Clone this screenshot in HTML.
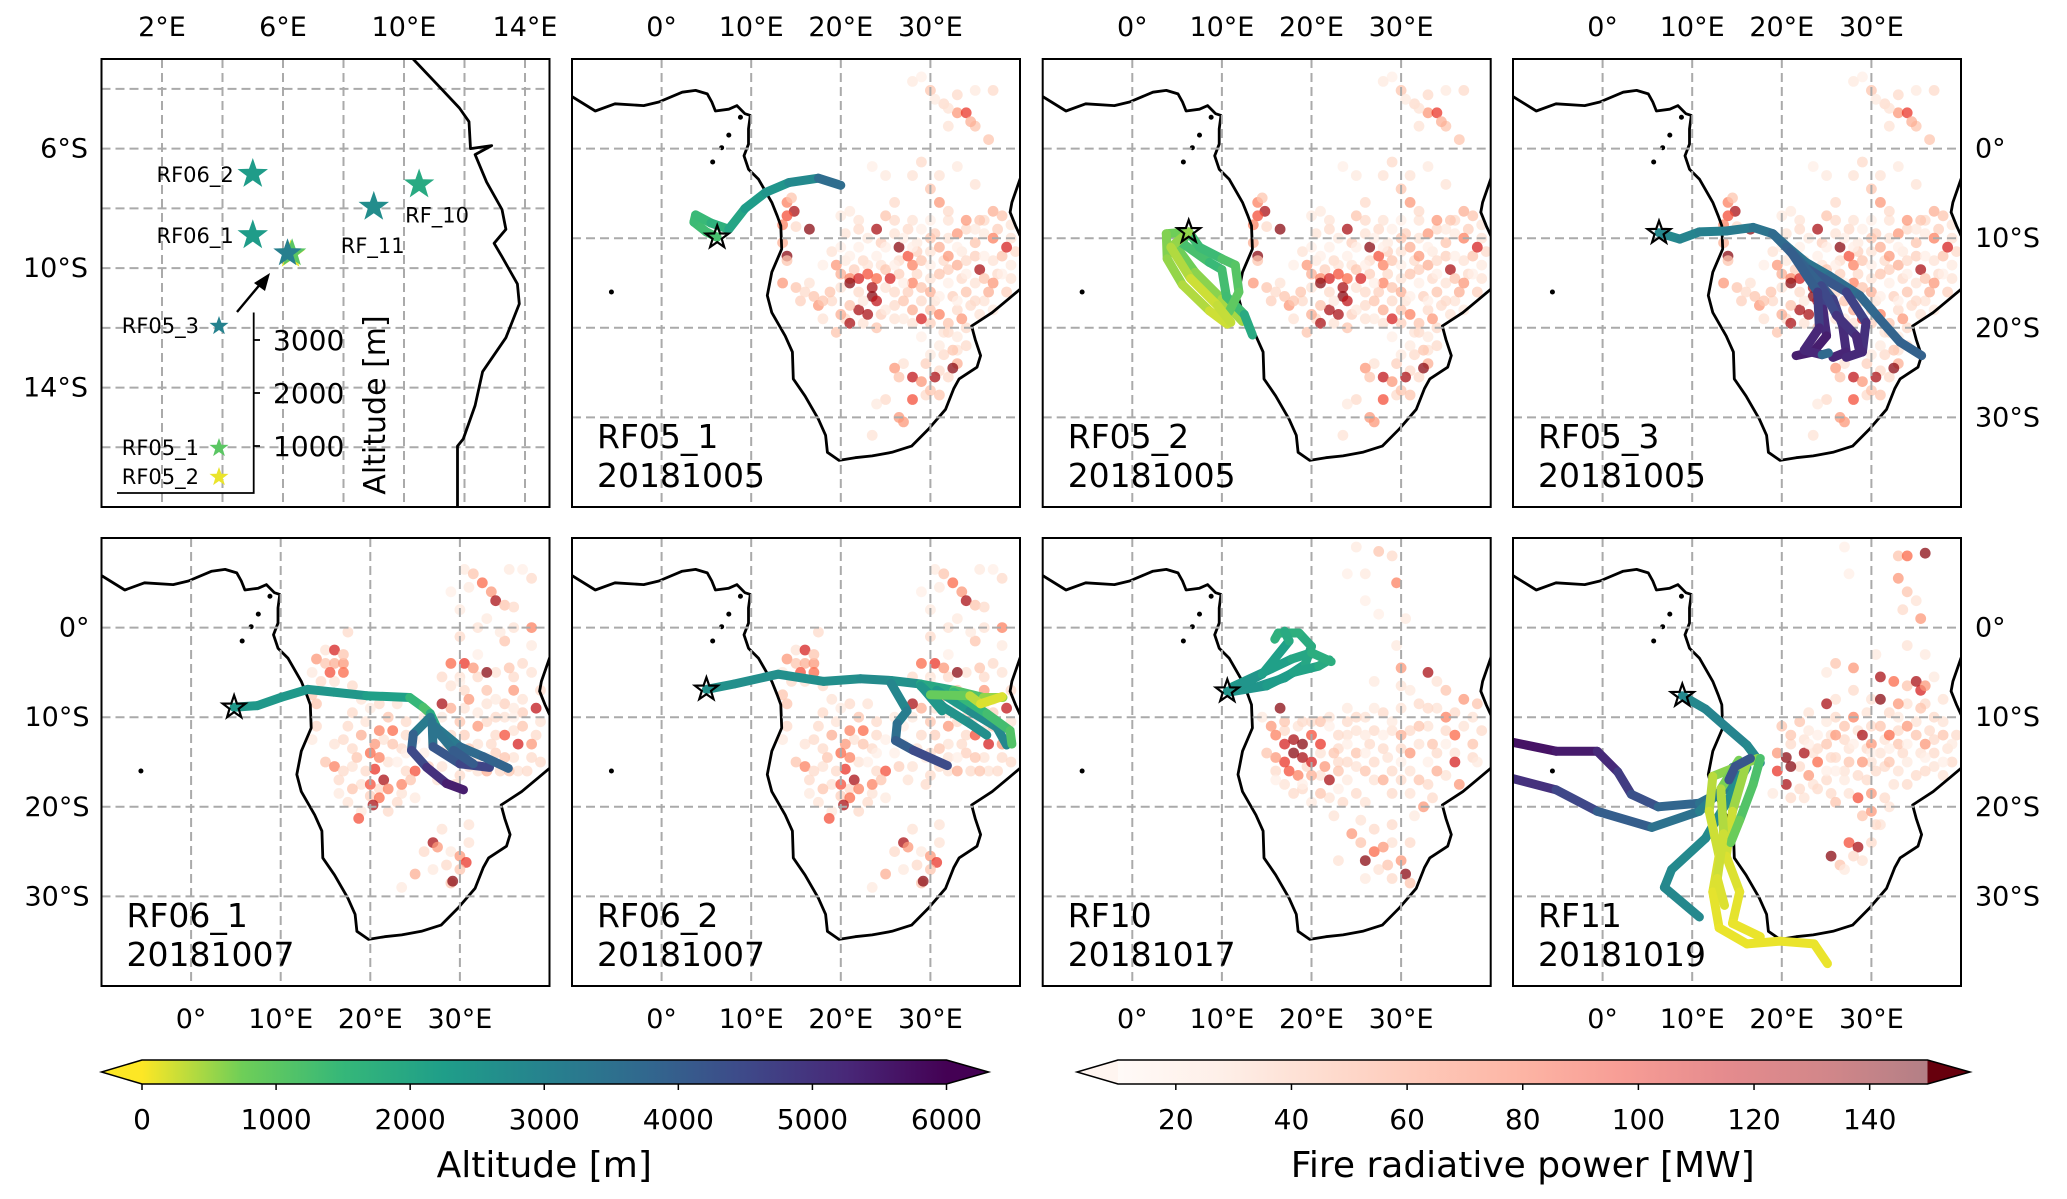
<!DOCTYPE html>
<html><head><meta charset="utf-8"><style>
html,body{margin:0;padding:0;background:#fff}
svg{display:block;font-family:"DejaVu Sans","Liberation Sans",sans-serif}
</style></head><body>
<svg id="fig" width="2067" height="1199" viewBox="0 0 2067 1199" xmlns="http://www.w3.org/2000/svg">
<defs>
<linearGradient id="gViridis" x1="0" x2="1" y1="0" y2="0">
<stop offset="0" stop-color="#fde725"/><stop offset="0.125" stop-color="#6ece58"/><stop offset="0.25" stop-color="#35b779"/><stop offset="0.375" stop-color="#1f9e89"/><stop offset="0.5" stop-color="#26828e"/><stop offset="0.625" stop-color="#31688e"/><stop offset="0.75" stop-color="#3e4989"/><stop offset="0.875" stop-color="#482878"/><stop offset="1" stop-color="#440154"/>
</linearGradient>
<linearGradient id="gReds" x1="0" x2="1" y1="0" y2="0">
<stop offset="0" stop-color="#fff5f0"/><stop offset="0.125" stop-color="#fee0d2"/><stop offset="0.25" stop-color="#fcbba1"/><stop offset="0.375" stop-color="#fc9272"/><stop offset="0.5" stop-color="#fb6a4a"/><stop offset="0.625" stop-color="#ef3b2c"/><stop offset="0.75" stop-color="#cb181d"/><stop offset="0.875" stop-color="#a50f15"/><stop offset="1" stop-color="#67000d"/>
</linearGradient>
</defs>
</svg>
<script>
// ---------- DATA ----------
const coastLon=[-12,-10,-7.4,-5.2,-2,-0.3,2.3,3.8,5.1,5.6,6,7.5,8.4,9.3,9.9,9.7,9.7,9.2,9.7,10.8,12.3,12.9,13.3,13.4,12.3,11.8,12.3,13.8,14.6,14.7,16,17.5,18.3,18.5,19.8,21.6,23.5,25.7,27.9,29.8,31.7,32.6,33.2,35.2,35.6,35,34.6,36.9,38.7,40,42];
const coastLat=[6.5,5.8,4.2,5.0,4.8,5.2,6.3,6.5,6.1,5.2,4.2,4.4,4.8,3.9,3.7,2.2,0.5,-0.8,-2.3,-3.4,-6,-7.5,-8.6,-11.2,-13.8,-16.4,-18.3,-20.9,-22.7,-25.7,-27.6,-30.2,-32,-33.9,-34.8,-34.5,-34.3,-33.9,-33.2,-31.3,-29.1,-26.8,-25.7,-24.4,-23.1,-21.3,-19.8,-18.3,-16.8,-15.7,-15];
const eastLon=[41,40,39.1,38.9,39.5,40,41];
const eastLat=[-1,-3.4,-6,-7.1,-8.6,-9.7,-11];
const islandLon=[8.8,7.5,6.7,5.7,-5.6];
const islandLat=[3.5,1.5,0.1,-1.5,-16];

const insetCoastLon=[10.3,11.2,11.83,12.15,12.2,12.9,12.35,12.73,13.24,13.37,12.98,13.24,13.75,13.81,13.37,12.6,12.35,11.96,11.77,11.77];
const insetCoastLat=[-3.0,-3.96,-4.64,-5.1,-6.0,-5.9,-6.2,-7.12,-8.04,-8.7,-9.17,-9.62,-10.53,-11.2,-12.33,-13.47,-14.6,-15.72,-15.96,-18.1];
const startNames=['RF06_2','RF_10','RF_11','RF06_1','RF05_1','RF05_2','RF05_3'];
const startLon=[5.0,10.5,9.0,5.0,6.3,6.25,6.15];
const startLat=[-6.85,-7.2,-7.95,-8.9,-9.5,-9.55,-9.5];
const startAlt=[2300,1900,2700,2300,1000,100,3100];
const legendNames=['RF05_3','RF05_1','RF05_2'];
const legendAlt=[3000,1000,100];
const insetAltTicks=[1000,2000,3000];

const fires1005=[[28,7.5,20],[30,6.5,40],[31.5,5,30],[33,4,60],[34,4,100],[35,2.5,40],[36.5,1,40],[32,4.5,25],[30.5,5.5,20],[34.5,3,50],[35,6.5,20],[37,6.5,30],[29,8,15],
[29,-1.5,30],[28,-3,25],[30,-4.5,40],[31,-6,60],[32,-7,30],[34,-8,60],[35.5,-8,40],[37,-7,50],[38,-7.5,40],[25,-3,20],[23.5,-2,15],
[14,-6,70],[14.8,-7,130],[14,-7.5,90],[13.5,-8.5,70],[15,-8.7,30],[14.5,-5.5,40],
[16.5,-9,140],[24,-9,130],[20,-7.5,20],[21,-7,20],[25,-7.5,40],[26,-6,30],[28,-8,25],
[13.5,-10.5,50],[14,-12,140],[14,-12.5,40],[13.5,-15,60],[15,-15.5,40],[16,-16,30],[17,-16.5,40],[17.5,-17.5,60],[18,-17,40],[18.8,-16,40],
[19.5,-13,60],[20,-14,50],[21,-14.5,70],[22,-14.5,110],[23,-14,90],[24,-14.5,80],[25,-13.5,40],[25.5,-14.5,110],
[21,-15,140],[23.5,-15.5,130],[23.5,-16.5,140],[24,-17,120],[22,-18,130],[23,-18.5,130],[21,-17.5,40],[22.5,-17,20],
[26.5,-11,140],[27.5,-12,90],[28,-13,70],[28,-15,70],[29,-15.5,40],[30,-16,50],[31,-14,40],[32,-12,60],[33,-13,50],[34,-12.5,30],[35.5,-13.5,130],[36,-14.5,40],[37,-15,60],[38,-12,40],[38.5,-11,110],[37,-10,70],[35,-10.5,40],[33,-9.5,60],[30,-10,40],[31,-11,50],[29,-12.5,40],[26,-16,30],[27,-17,40],[28,-18,50],[30,-18,40],[31,-18.5,70],[29,-19,110],[32,-19.5,40],[33.5,-19,60],[35,-17,30],[34,-16,40],[36.5,-16,50],[24,-20,40],[21,-19.5,130],[20,-18.5,50],[19.5,-20.5,40],
[32,-20.5,30],[33,-21,20],[32.5,-22.5,40],[34,-22,30],[33,-24,50],[32.5,-24.5,140],[31,-24.8,30],[26,-24.5,60],[26.5,-25.5,40],[28,-25.5,120],[29,-26,60],[30,-27,40],[31,-27.5,40],[30.5,-25.5,130],[28,-28,90],[25,-28,30],[26.5,-30,60],[27,-30.5,60],[24,-28.5,20],[23.5,-32,25],
[25,-11,15],[27,-10,15],[29,-9,15],[33,-11,15],[34,-14,15],[26,-13,15],[28,-11,15],[30,-13,15],[32,-15,15],[30,-8,15],[36,-12,15],[38,-14,15],[27,-15,15],[24,-12,15],[22,-11,15],[20,-11,15],[18,-13,15],[21,-12,15],[31,-16.5,15],[33,-17,15],[35,-9,20],[39,-13,20],[37,-18,20],[25,-18,20],[27,-19,20],[29,-21,15],[31,-22,20],[30,-23,20]];
const pale1005=[[20.5,-9.5,25],[22,-9,30],[23,-10,20],[24.5,-10.5,35],[26,-9.5,25],[27.5,-9,30],[28.5,-10.5,20],[30.5,-9.5,35],[32,-10,25],[34,-9,30],[36,-9.5,20],[37.5,-9,35],[39,-10,25],[39.5,-11.5,30],[37,-12.5,25],[35,-12,35],[33.5,-11.5,20],[31.5,-12.5,30],[30,-11.5,25],[28.5,-11.5,35],[26.5,-12.5,30],[24.5,-13,25],[22.5,-12.5,30],[20.5,-12.5,20],[19,-11.5,25],[21.5,-13.5,35],[23,-13,25],[26.5,-14,35],[28.5,-14,30],[30,-14.5,25],[32,-13.5,35],[33.5,-14.5,30],[35,-15,25],[37.5,-14,30],[39,-14.5,25],[38.5,-16,35],[36,-17,25],[34.5,-17.5,30],[32.5,-16.5,35],[30.5,-17,25],[29,-17,30],[27.5,-16,35],[25,-15.5,25],[26,-17.5,30],[28,-19.5,25],[30,-19.5,35],[31.5,-20.5,25],[33,-18,30],[35.5,-18.5,25],[34,-20,30],[26,-19,25],[24.5,-18.5,35],[22,-16,30],[20,-15.5,25],[19,-17,30],[16.5,-15,25],[15.5,-17,35],[18,-19,25],[20.5,-19,30],[22.5,-19.5,25],[31.5,-23,30],[33,-22.5,25],[32,-25.5,30],[29.5,-24,35],[27,-24,25],[29.5,-27.5,30],[22,-8,25],[26,-8,30],[32,-8,25],[36,-8,30],[39,-8.5,25],[31,-3,25],[33,-2,20],[35,-4,25],[33,6,30],[32,2.5,25]];

const fires1007=[[30.5,6.5,20],[31.5,6,40],[32.5,5,80],[33.5,4,60],[34,3,130],[35,2.5,40],[36,2.3,30],[31,4.5,20],[35.5,6.5,20],[37,6.5,15],[29,4,15],[30,2,20],[38,5.5,30],
[38,0,70],[35,-1.5,40],[34.5,-0.5,20],[30,-1,30],[29,-4,80],[30.5,-4,100],[31.5,-4.5,60],[33,-5,140],[35.5,-4.5,40],[37,-4,30],[38,-2,20],[36,-7,60],[33,-7,40],[31,-8,60],[29,-9,50],[28,-8.5,130],[30,-10.5,40],[32,-11,60],[34,-10,30],[35,-12,90],[37,-11,40],[38.5,-9,120],[36.5,-13,110],[38,-13,60],[35,-14.5,40],[33.5,-13,30],[31,-13.5,40],[29,-12,30],[33,-16,50],[35.5,-16,40],[31,-15.5,30],[39,-15,30],[29.5,-14.5,20],[32,-9.5,20],[34,-8,20],[36,-9,20],[37.5,-16,30],
[14,-3.5,60],[15,-4,40],[16,-4,50],[17,-4,60],[15.5,-5,90],[17,-5,80],[13.5,-5,20],[16,-2.5,110],[17,-3,40],[17.5,-0.5,30],[13.5,-7.5,40],[14,-8.5,40],[14,-11,30],[13.5,-12.5,20],[18,-9.5,30],[20,-9,20],[22,-10,40],[22.5,-11.5,80],[21,-11.5,70],[19,-12,50],[17,-12.5,30],[20.5,-13,60],[22.5,-13,40],[24,-12,30],[20,-14,80],[21,-14.5,70],[18.5,-14.5,40],[15,-15,40],[16,-15.5,70],[17,-16,30],[19.5,-16,30],[20.5,-15.8,100],[21.5,-17,130],[20,-17.5,90],[22,-18,70],[23.5,-17.5,70],[25,-16,90],[24.5,-17,40],[21,-19,80],[20.3,-19.8,130],[18,-18,40],[16.5,-18.5,20],[23,-19.5,30],[25,-19,20],[19,-20.5,20],[18.7,-21.3,90],
[27,-24,130],[27.5,-24.5,60],[29,-25,20],[30,-25.5,60],[30.7,-26.2,100],[28.5,-26.5,30],[30,-27,40],[29,-28.5,40],[25,-27.5,50],[29.2,-28.3,140],[27,-27,20],[23.5,-29,20],
[26,-10,20],[27,-11,15],[28,-10,20],[25,-12.5,15],[26,-14,15],[27,-13,15],[24,-14,15],[23,-15,15],[30,-6,15],[32,-3,15],[36,-10,15],[33,-14.5,15]];
const pale1007=[[30,-5.5,25],[32,-5.5,30],[34,-5,25],[36,-5.5,30],[38,-5,25],[39,-7,30],[37,-8,25],[35,-8.5,35],[33,-8.5,25],[30.5,-7,30],[29,-6.5,25],[28,-5.5,30],[30.5,-9,25],[33,-10.5,30],[35,-10,25],[37,-9.5,35],[39,-10.5,25],[38.5,-12,30],[36,-11.5,25],[34,-12,30],[32,-13,25],[30.5,-12,35],[28.5,-13.5,25],[30,-14,30],[32,-14.5,25],[34,-14,35],[36,-14.5,25],[38,-14.5,30],[36.5,-16,25],[34.5,-16,30],[32,-16,25],[30,-16.5,30],[28,-15.5,25],[26.5,-15.5,35],[27.5,-17,25],[29.5,-17.5,30],[16,-6,25],[18,-6.5,30],[19,-8,25],[21,-8.5,30],[23,-8.5,25],[24,-10.5,30],[19.5,-10.5,25],[17.5,-11,30],[16,-13,25],[18,-13.5,30],[21.5,-12.5,25],[23.5,-13.5,30],[22,-15,25],[24,-16,30],[18,-15.5,25],[16.5,-17,30],[19,-17.5,25],[21,-18,30],[23.5,-18.5,25],[20,-18.8,35],[17.5,-19.5,25],[22,-20.5,30],[15,-2.5,25],[14.5,-6,30],[31,-22,25],[28,-22.5,25],[26,-25,30],[31,-24,25],[32,0,25],[36,0,25],[33,1,20]];

const fires1017=[[25,9,20],[27.5,8.5,40],[29,8,30],[24,6,15],[29.5,5,70],[26,3,15],[27.5,1.5,15],[30.5,1,20],
[29.5,-2,20],[30,-4.5,60],[33,-5,130],[35,-7,40],[37,-8,60],[38.5,-8.5,40],[35,-10,70],[32,-11,40],[30,-12,50],[28,-13.5,30],[31,-14,60],[33.5,-13,40],[36,-12,80],[38,-13,40],[36,-15,110],[34,-16,50],[32,-17,40],[30,-17,30],[36.5,-17.5,60],[38.5,-15,20],[27,-9,20],[25,-10,30],[24,-9,20],[29,-10.5,20],[26,-12,20],[33,-9,30],[31,-7,20],
[16,-12,70],[17,-13,110],[18,-12.5,130],[19,-13,140],[20,-12,90],[21,-13,100],[18,-14,140],[19,-14.5,130],[20,-15,110],[17,-15,100],[16,-14.5,60],[15,-14,40],[17.5,-16,90],[18.5,-16.5,70],[20,-16.5,50],[21.5,-15.5,60],[22.5,-14,40],[23,-16,40],[22,-17,130],[24,-15,30],[25,-14,40],[15.5,-11,60],[14.5,-10,20],[16.5,-9,140],[17,-10.5,40],[19,-10.5,30],[21,-10.5,40],[23,-12,30],[24,-17,20],[26,-16,40],[27,-15,30],[28,-17,50],[25,-18.5,30],[21,-18.5,40],[18,-18.5,30],[20,-19.5,20],
[24.5,-23,60],[25.5,-24,40],[27,-25,80],[28,-24.5,60],[26,-26,140],[28.5,-26.5,40],[30,-26,60],[30.5,-27.5,140],[31,-28.5,40],[26,-28,20],[29,-22,30],[31.5,-21,20],[32.5,-20,60],
[22,-11,15],[24,-13,15],[26,-14,15],[28,-12,15],[30,-15,15],[33,-15,15],[35,-13,15],[23,-18,15],[19,-17.5,15],[16,-17,15]];
const pale1017=[[17,-11.5,30],[18.5,-11,25],[20,-10.5,30],[22,-10,25],[24,-10.5,30],[26,-10,25],[28,-9.5,30],[30,-9,25],[32,-8.5,30],[34,-9,25],[36,-9.5,30],[38,-10,25],[39,-11.5,30],[37,-11,25],[35,-11.5,30],[33,-11,25],[31,-11.5,30],[29,-11.5,25],[27,-11.5,30],[25,-11.5,25],[23,-13.5,30],[21,-14,25],[19.5,-15.5,30],[21,-16.5,25],[23,-15,30],[25,-15.5,25],[26.5,-13,30],[28.5,-14.5,25],[30,-13.5,30],[32,-13,25],[34,-14,30],[36,-14,25],[38,-14.5,30],[35,-16.5,25],[33,-17.5,30],[31,-16,25],[29,-16,30],[27,-17,25],[29,-18.5,30],[31,-18.5,25],[33.5,-19,30],[26,-19.5,25],[23.5,-19.5,30],[22,-19,25],[24,-12,25],[16,-16,30],[17,-17.5,25],[19,-18,30],[22.5,-21,25],[25.5,-21.5,25],[27,-22.5,30],[29,-24,25],[31,-24,30],[27.5,-27,25],[29,-28,30],[23,-26,25],[34,-6,25],[30,-6.5,25],[27,-6,20],[26,6,20]];

const fires1019=[[27,9,15],[33,8,40],[34,8,80],[36,8.3,140],[33,5.5,60],[34,4,40],[33.5,2,30],[35.5,1,60],[27.5,6,15],
[25,-5,20],[26,-4,40],[28,-4.5,60],[30.5,-3,20],[31,-5.5,130],[32.5,-6,80],[34,-6.5,40],[35,-6,130],[35.5,-7,110],[36,-6.5,60],[37,-5.5,20],[31,-8,140],[33,-8.5,60],[35.5,-9,40],[25,-8.5,130],[22,-10.5,40],[20,-11,40],[23,-11.5,20],[21,-12,40],[19.5,-14,60],[20.5,-14.5,140],[21,-15.5,140],[19.5,-16,100],[22.5,-14,130],[24,-15,80],[23,-16.5,60],[25,-13,40],[26,-12,60],[27,-11,40],[28,-10,70],[29,-12,130],[30,-13,60],[31,-11,40],[32,-12,80],[33,-13,40],[34,-11,60],[35,-12,40],[36,-13,60],[37,-14,30],[38,-12,40],[39,-13,20],[26,-14.5,30],[27.5,-15,40],[29,-15,60],[30.5,-16,30],[32,-15,40],[34,-15,20],[36,-16,30],[24,-18,30],[26,-19.5,40],[28.5,-19,90],[30,-18.5,60],[31.5,-19,30],[20.5,-17.5,130],[22,-18,30],[19,-18.5,20],[27,-17,20],[25,-10.5,20],[33,-10,20],[37,-10,30],
[29,-21,40],[30,-20.5,60],[30.5,-22,30],[27.5,-24,90],[28.5,-24.5,130],[25.5,-25.5,140],[26.5,-26.5,40],[28,-25.5,30],[27,-27,20],
[24,-12,15],[26,-16,15],[28,-13,15],[30,-14,15],[32,-13.5,15],[34,-13,15],[36,-14.5,15],[38,-15,15],[23,-13,15],[25,-16,15]];
const pale1019=[[21,-13,30],[22.5,-12.5,25],[24,-13.5,30],[25.5,-12,25],[27,-12.5,30],[28.5,-11.5,25],[30,-11,30],[31.5,-12.5,25],[33,-11.5,30],[35,-10.5,25],[36.5,-11.5,30],[38,-10.5,25],[39.5,-12,30],[38.5,-13.5,25],[37,-12.5,30],[35.5,-14,25],[33.5,-14,30],[31,-14,25],[29.5,-13.5,30],[27.5,-13.5,25],[25.5,-14.5,30],[23.5,-14,25],[22,-15.5,30],[23.5,-17.5,25],[25,-17,30],[27,-16,25],[28.5,-16.5,30],[30,-15,25],[31.5,-15.5,30],[33,-16,25],[35,-16.5,30],[37,-15.5,25],[39,-15,30],[38,-16.5,25],[34,-17.5,30],[32.5,-17.5,25],[29.5,-17,30],[27.5,-18.5,25],[25.5,-18.5,30],[22.5,-19,25],[21,-19,30],[26,-8,25],[28,-7,30],[30,-8,25],[32,-9.5,30],[34,-8.5,25],[36,-8.5,30],[38,-8,25],[29.5,-9.5,25],[26,-10,30],[23,-9.5,25],[31,-22,25],[30,-24,30],[29,-26,25],[32,-20,25],[35,3,25],[34,-2,25],[36,-3,20]];

// trajectories: each is [[lon,lat,alt],...]
const trajRF05_1=[
 [[6.2,-9.9,1200],[5,-9.3,1300],[3.6,-8.2,1400],[3.8,-7.4,1400],[5.5,-8.3,1500],[7.5,-9,1900],[9.3,-6.7,2200],[11.6,-4.9,2400],[14.2,-3.8,2600],[17.5,-3.3,3000],[20,-4.1,4200]]
];
const trajRF05_2=[
 [[6.3,-9.3,800],[3.8,-9.5,700],[3.9,-12.3,600],[5.6,-15.2,500],[8.6,-18.1,300],[10.6,-19.6,200]],
 [[6.3,-9.3,900],[4.8,-10.8,800],[7,-13.8,700],[10,-16.8,500],[12.3,-19.3,400]],
 [[6.3,-9.3,1000],[5.5,-10.5,1000],[8.6,-12.7,1500],[10,-13.5,1400],[10.5,-16.5,1200],[12.5,-18.5,1500],[13.4,-20.8,2300]],
 [[6.3,-9.3,1100],[7.5,-11,1600],[10,-12.3,1200],[11.5,-13,1100],[11.9,-16,1000],[10.8,-18.2,900]],
 [[6.3,-9.3,600],[4.3,-11,500],[6.5,-14.5,300],[9.5,-17.5,200],[11,-19.4,400]]
];
const trajRF05_3=[
 [[6.3,-9.4,2800],[8.6,-10.1,2900],[10.8,-9.3,3000],[13.8,-9.2,3100],[16.8,-8.8,3300],[19,-9.5,3500],[20.9,-11.2,3500],[22.7,-12.7,3300],[25.3,-14.2,3500],[28.7,-16.4,3700],[30.9,-19,3800],[33.2,-21.6,3900],[35.6,-23.1,3900]],
 [[19,-9.5,3500],[21.5,-12,3800],[23.5,-14.6,4300],[24.6,-17.9,5000],[25,-20.9,5400],[23.5,-22.7,5500],[21.6,-23.1,5400]],
 [[19.5,-10,3500],[22.5,-13,3800],[25.7,-16.8,4400],[26.8,-19.8,5000],[27.2,-22.7,5300],[25.7,-23.3,5300]],
 [[20,-10.5,3500],[23,-13.5,3900],[27.2,-16,4400],[29.4,-19.4,4900],[29,-22.7,5200],[27.2,-23.3,5200]],
 [[20.5,-11,3600],[24.4,-15.3,4200],[26.1,-18.6,4800],[28.3,-20.9,5200],[28.7,-22.7,5200]],
 [[21,-11.5,3600],[24,-16,4400],[24.2,-20,5100],[22.5,-22.5,5400],[24.5,-23,5100],[25.2,-22.8,2300]]
];
const trajRF06_1=[
 [[4.8,-8.9,2400],[7.4,-8.7,2400],[10,-7.8,2400],[13,-6.9,2400],[15.9,-7.2,2600],[19.6,-7.6,2300],[24.4,-7.8,2100],[25.9,-8.9,900],[26.7,-9.6,1500],[27.4,-11.1,2300]],
 [[26.7,-10,2800],[24.8,-11.9,3600],[24.6,-13.7,4200],[26.3,-15.6,4800],[28.5,-17.4,5300],[30.4,-18.1,5600]],
 [[26.9,-10.5,3000],[27,-13.3,3800],[30,-15.2,4500],[33.3,-15.6,4700]],
 [[27.2,-11,3000],[30,-13.3,3500],[32.6,-14.4,3800],[35.4,-15.7,3900]],
 [[27,-11,3000],[29.3,-13.7,3800],[31.5,-15.2,4300]]
];
const trajRF06_2=[
 [[5,-6.9,2600],[8.1,-6.3,2600],[13,-5.2,2700],[18.1,-6,2600],[22.2,-5.7,2700],[25.6,-5.9,2800],[28.9,-6.3,2400],[32.6,-7,1500],[35.9,-7.8,800],[38.1,-7.8,300]],
 [[25.6,-6.2,2800],[27.4,-9.3,3000],[26.3,-10.7,3300],[26.1,-12.6,3800],[28.1,-13.7,4200],[31.9,-15.4,4700]],
 [[28.9,-6.5,2300],[31.5,-8.9,2500],[34.4,-10.7,2600],[36.3,-12,2700]],
 [[30.7,-7,2100],[34.4,-9.3,2600],[37.4,-11.1,2800],[38.5,-13.1,2900]],
 [[32.6,-7.2,1600],[36.3,-9.6,1400],[38.9,-11.5,1200],[39.1,-13,1000]],
 [[29.2,-6.8,2200],[31.3,-9.3,2700]],
 [[30,-7.5,1200],[34.4,-7.6,500],[35.6,-8.5,200],[38,-7.7,150]]
];
const trajRF10=[
 [[10.6,-7.1,2600],[14,-6.6,2500],[17,-5.6,2300],[19.3,-4.1,2100],[20,-2.1,1900],[18.6,-0.6,1800],[16.3,-0.6,1700],[15.9,-1.3,1700]],
 [[10.8,-7.2,2600],[15,-6.5,2400],[18,-5,2200],[20.8,-4.3,2000],[22,-3.6,1800]],
 [[11.2,-6.6,2500],[15.5,-4.6,2300],[17.8,-3.5,2100],[20,-2.8,1900],[22.2,-3.8,1700]],
 [[11,-7,2600],[14.5,-5.2,2400],[17.5,-1.5,2000],[17,-0.4,1800]]
];
const trajRF11=[
 [[8.9,-7.6,2800],[11.5,-9.1,2900],[13.8,-11.1,3000],[16.1,-13.1,2900],[17.6,-15.1,2800]],
 [[-11,-12.6,5700],[-5.2,-13.8,5600],[-0.6,-13.8,5400],[1.7,-16.1,5000],[3.2,-18.6,4600],[6.2,-20,4000],[10.8,-19.6,3600],[13.8,-18,3300],[14.5,-15.6,3000]],
 [[-11,-16.6,5300],[-5.2,-18.1,4800],[-0.6,-20.5,4300],[5.5,-22.3,3700],[10.8,-20.5,3200],[13.8,-17.6,2900],[15.3,-15.6,2800]],
 [[16.1,-15.6,2600],[13.8,-19.6,2700],[11.5,-23.5,2800],[7.7,-27,2800],[6.9,-29,2800],[10.8,-32.3,2900]],
 [[17.3,-14.6,800],[12.3,-16.6,400],[11.9,-20.5,300],[13,-25.5,200],[12.3,-29.5,150],[13,-33.5,100],[16.1,-35.3,100],[19.8,-35,100],[23.6,-35.3,100],[25.1,-37.5,100]],
 [[16.1,-15,700],[14.5,-20.5,300],[13.8,-25.5,200],[15.3,-29.5,150],[14.5,-33,100],[17.6,-34.5,100]],
 [[17.6,-14.6,1200],[16.8,-17.5,1200],[15.3,-21.5,1000],[14.3,-24,600]],
 [[15.2,-14.8,900],[13.2,-18,500],[13.5,-23,300],[12.8,-28,200],[13.6,-31,150]],
 [[16.5,-14.6,3300],[14.8,-15.5,5000],[14.1,-17,3500]]
];

// ---------- helpers ----------
const svg=document.getElementById('fig');
const NS='http://www.w3.org/2000/svg';
function el(tag,attrs,parent){const e=document.createElementNS(NS,tag);for(const k in attrs)e.setAttribute(k,attrs[k]);(parent||svg).appendChild(e);return e;}
function lerpHex(a,b,t){const pa=[1,3,5].map(i=>parseInt(a.substr(i,2),16)),pb=[1,3,5].map(i=>parseInt(b.substr(i,2),16));return 'rgb('+pa.map((v,i)=>Math.round(v+(pb[i]-v)*t)).join(',')+')';}
function cmap(stops,t){t=Math.max(0,Math.min(1,t));const n=stops.length-1;const i=Math.min(n-1,Math.floor(t*n));return lerpHex(stops[i],stops[i+1],t*n-i);}
const viridisR=['#fde725','#6ece58','#35b779','#1f9e89','#26828e','#31688e','#3e4989','#482878','#440154'];
const reds=['#fff5f0','#fee0d2','#fcbba1','#fc9272','#fb6a4a','#ef3b2c','#cb181d','#a50f15','#67000d'];
function altColor(a){return cmap(viridisR,a/6000);}
function frpColor(v){return v>150?'#67000d':cmap(reds,(v-10)/140);}
function starPts(cx,cy,R){const r=R*0.4;let p=[];for(let i=0;i<10;i++){const ang=-Math.PI/2+i*Math.PI/5;const rr=i%2?r:R;p.push((cx+rr*Math.cos(ang)).toFixed(1)+','+(cy+rr*Math.sin(ang)).toFixed(1));}return p.join(' ');}
function txt(x,y,s,size,anchor,parent,name){const t=el('text',{x:x,y:y,'font-size':size,'text-anchor':anchor||'start',fill:'#000'},parent);t.textContent=s;return t;}

// ---------- big panels ----------
const colX=[101.5,572,1042.7,1513], rowY=[59,538], PW=448, PH=448;
const LON0=-10,LON1=40,LAT0=-40,LAT1=10;
const panelDefs=[
 {c:1,r:0,name:'RF05_1',date:'20181005',fires:fires1005,pale:pale1005,traj:trajRF05_1},
 {c:2,r:0,name:'RF05_2',date:'20181005',fires:fires1005,pale:pale1005,traj:trajRF05_2},
 {c:3,r:0,name:'RF05_3',date:'20181005',fires:fires1005,pale:pale1005,traj:trajRF05_3},
 {c:0,r:1,name:'RF06_1',date:'20181007',fires:fires1007,pale:pale1007,traj:trajRF06_1},
 {c:1,r:1,name:'RF06_2',date:'20181007',fires:fires1007,pale:pale1007,traj:trajRF06_2},
 {c:2,r:1,name:'RF10',date:'20181017',fires:fires1017,pale:pale1017,traj:trajRF10},
 {c:3,r:1,name:'RF11',date:'20181019',fires:fires1019,pale:pale1019,traj:trajRF11}
];
const lonTicks=[0,10,20,30], lonTickLabels=['0°','10°E','20°E','30°E'];
const latTicks=[0,-10,-20,-30], latTickLabels=['0°','10°S','20°S','30°S'];
const TICKFS=27;

panelDefs.forEach((p,idx)=>{
  const px=colX[p.c], py=rowY[p.r];
  const X=lon=>px+(lon-LON0)/(LON1-LON0)*PW;
  const Y=lat=>py+(LAT1-lat)/(LAT1-LAT0)*PH;
  const g=el('g',{});
  
  
  const cid='clip'+idx;
  const cp=el('clipPath',{id:cid},g); el('rect',{x:px,y:py,width:PW,height:PH},cp);
  const inner=el('g',{'clip-path':'url(#'+cid+')'},g);
  p.pale.concat(p.fires).forEach(f=>{const c=el('circle',{cx:X(f[0]).toFixed(1),cy:Y(f[1]).toFixed(1),r:5.4,fill:frpColor(f[2]),'fill-opacity':0.75},inner);
    
    });
  const coast=el('polyline',{points:coastLon.map((l,i)=>X(l).toFixed(1)+','+Y(coastLat[i]).toFixed(1)).join(' '),fill:'none',stroke:'#000','stroke-width':2.8,'stroke-linejoin':'round'},inner);
  
  
  const east=el('polyline',{points:eastLon.map((l,i)=>X(l).toFixed(1)+','+Y(eastLat[i]).toFixed(1)).join(' '),fill:'none',stroke:'#000','stroke-width':2.8},inner);
  
  
  islandLon.forEach((l,i)=>{const d=el('circle',{cx:X(l),cy:Y(islandLat[i]),r:2.5,fill:'#000'},inner);
    
    });
  lonTicks.forEach(l=>{const gl=el('line',{x1:X(l),x2:X(l),y1:py,y2:py+PH,stroke:'#aaa','stroke-width':2,'stroke-dasharray':'9,5'},inner);
    
    });
  latTicks.forEach(l=>{const gl=el('line',{x1:px,x2:px+PW,y1:Y(l),y2:Y(l),stroke:'#aaa','stroke-width':2,'stroke-dasharray':'9,5'},inner);
    
    });
  p.traj.forEach(tr=>{
    for(let i=0;i<tr.length-1;i++){
      const a=tr[i],b=tr[i+1];
      const s=el('line',{x1:X(a[0]).toFixed(1),y1:Y(a[1]).toFixed(1),x2:X(b[0]).toFixed(1),y2:Y(b[1]).toFixed(1),stroke:altColor((a[2]+b[2])/2),'stroke-width':9,'stroke-linecap':'round'},inner);
      
      
    }
  });
  const st=p.traj[0][0];
  const sm=el('polygon',{points:starPts(X(st[0]),Y(st[1]),12),fill:'none',stroke:'#000','stroke-width':2.2},inner);
  
  
  el('rect',{x:px,y:py,width:PW,height:PH,fill:'none',stroke:'#000','stroke-width':2},g);
  txt(px+25,py+389,p.name,33,'start',g,'panel-flight-label');
  txt(px+25,py+428,p.date,33,'start',g,'panel-date-label');
  if(p.r===0){lonTicks.forEach((l,i)=>txt(X(l),36,lonTickLabels[i],TICKFS,'middle',g,'lon-tick-label'));}
  else{lonTicks.forEach((l,i)=>txt(X(l),1028,lonTickLabels[i],TICKFS,'middle',g,'lon-tick-label'));}
  if(p.c===3){latTicks.forEach((l,i)=>txt(px+PW+14,Y(l)+9,latTickLabels[i],TICKFS,'start',g,'lat-tick-label'));}
  if(p.c===0){latTicks.forEach((l,i)=>txt(px-12,Y(l)+9,latTickLabels[i],TICKFS,'end',g,'lat-tick-label'));}
});

// ---------- inset panel 1 ----------
(function(){
  const px=101.5,py=59;
  const X=lon=>px+lon*30.25, Y=lat=>py+(-3-lat)*29.87;
  const g=el('g',{});
  
  
  const cp=el('clipPath',{id:'clipInset'},g); el('rect',{x:px,y:py,width:PW,height:PH},cp);
  const inner=el('g',{'clip-path':'url(#clipInset)'},g);
  for(let l=2;l<=14;l+=2){const gl=el('line',{x1:X(l),x2:X(l),y1:py,y2:py+PH,stroke:'#aaa','stroke-width':2,'stroke-dasharray':'9,5'},inner);
    
    }
  for(let l=-4;l>=-16;l-=2){const gl=el('line',{x1:px,x2:px+PW,y1:Y(l),y2:Y(l),stroke:'#aaa','stroke-width':2,'stroke-dasharray':'9,5'},inner);
    
    }
  const coast=el('polyline',{points:insetCoastLon.map((l,i)=>X(l).toFixed(1)+','+Y(insetCoastLat[i]).toFixed(1)).join(' '),fill:'none',stroke:'#000','stroke-width':2.8,'stroke-linejoin':'round'},inner);
  
  
  const order=[0,1,2,3,5,4,6];
  order.forEach(i=>{
    const R=i>=4?15:16;
    const s=el('polygon',{points:starPts(X(startLon[i]),Y(startLat[i]),R),fill:altColor(startAlt[i])},inner);
    
    
  });
  txt(X(startLon[0])-19,Y(startLat[0])+8,startNames[0],21,'end',inner,'start-label');
  txt(X(startLon[3])-19,Y(startLat[3])+8,startNames[3],21,'end',inner,'start-label');
  txt(X(startLon[1])-14,Y(startLat[1])+38,startNames[1],21,'start',inner,'start-label');
  txt(X(startLon[2])-33,Y(startLat[2])+46,startNames[2],21,'start',inner,'start-label');
  const legY=[326,448,477];
  legendNames.forEach((n,i)=>{
    const s=el('polygon',{points:starPts(219,legY[i],10),fill:altColor(legendAlt[i])},inner);
    
    
    txt(199,legY[i]+7,n,21,'end',inner,'legend-label');
  });
  const ar=el('line',{x1:237,y1:312,x2:262,y2:282,stroke:'#000','stroke-width':2.4},inner);
  
  
  const ah=el('polygon',{points:'270,273 254,283 265,291',fill:'#000'},inner);
  
  
  const ax=el('polyline',{points:'117,493 253.7,493 253.7,312.5',fill:'none',stroke:'#000','stroke-width':1.8},inner);
  
  
  const AY=a=>446-(a-1000)*0.053;
  insetAltTicks.forEach(a=>{
    el('line',{x1:253.7,x2:260,y1:AY(a),y2:AY(a),stroke:'#000','stroke-width':1.8},inner);
    txt(273,AY(a)+10,String(a),28,'start',inner,'altitude-tick-label');
  });
  const at=txt(0,0,'Altitude [m]',30,'middle',inner,'altitude-axis-title');
  at.setAttribute('transform','translate(385,405) rotate(-90)');
  el('rect',{x:px,y:py,width:PW,height:PH,fill:'none',stroke:'#000','stroke-width':2},g);
  [[2,'2°E'],[6,'6°E'],[10,'10°E'],[14,'14°E']].forEach(t=>txt(X(t[0]),36,t[1],TICKFS,'middle',g,'lon-tick-label'));
  [[-6,'6°S'],[-10,'10°S'],[-14,'14°S']].forEach(t=>txt(88,Y(t[0])+9,t[1],TICKFS,'end',g,'lat-tick-label'));
})();

// ---------- colorbars ----------
const altCbTicks=[0,1000,2000,3000,4000,5000,6000];
const frpCbTicks=[20,40,60,80,100,120,140];
(function(){
  const g=el('g',{});
  
  
  const x0=142,x1=946.5,y0=1060,y1=1084;
  el('polygon',{points:`${x0},${y0} 101.5,${(y0+y1)/2} ${x0},${y1}`,fill:'#fde725'},g);
  el('polygon',{points:`${x1},${y0} 988.6,${(y0+y1)/2} ${x1},${y1}`,fill:'#440154'},g);
  el('rect',{x:x0,y:y0,width:x1-x0,height:y1-y0,fill:'url(#gViridis)'},g);
  el('polygon',{points:`${x0},${y0} 101.5,${(y0+y1)/2} ${x0},${y1} ${x1},${y1} 988.6,${(y0+y1)/2} ${x1},${y0}`,fill:'none',stroke:'#000','stroke-width':1.5},g);
  altCbTicks.forEach(v=>{const x=x0+v/6000*(x1-x0);el('line',{x1:x,x2:x,y1:y1,y2:y1+6,stroke:'#000','stroke-width':1.5},g);txt(x,1129,String(v),28,'middle',g,'altitude-colorbar-tick');});
  txt((x0+x1)/2,1177,'Altitude [m]',36,'middle',g,'altitude-colorbar-title');
})();
(function(){
  const g=el('g',{});
  
  
  const x0=1118,x1=1927.5,y0=1060,y1=1084;
  el('polygon',{points:`${x0},${y0} 1077,${(y0+y1)/2} ${x0},${y1}`,fill:'#fff5f0'},g);
  el('polygon',{points:`${x1},${y0} 1970,${(y0+y1)/2} ${x1},${y1}`,fill:'#67000d'},g);
  el('rect',{x:x0,y:y0,width:x1-x0,height:y1-y0,fill:'url(#gReds)','fill-opacity':0.5},g);
  el('polygon',{points:`${x0},${y0} 1077,${(y0+y1)/2} ${x0},${y1} ${x1},${y1} 1970,${(y0+y1)/2} ${x1},${y0}`,fill:'none',stroke:'#000','stroke-width':1.5},g);
  frpCbTicks.forEach(v=>{const x=x0+(v-10)/140*(x1-x0);el('line',{x1:x,x2:x,y1:y1,y2:y1+6,stroke:'#000','stroke-width':1.5},g);txt(x,1129,String(v),28,'middle',g,'frp-colorbar-tick');});
  txt((x0+x1)/2,1177,'Fire radiative power [MW]',36,'middle',g,'frp-colorbar-title');
})();
</script>
</body></html>
